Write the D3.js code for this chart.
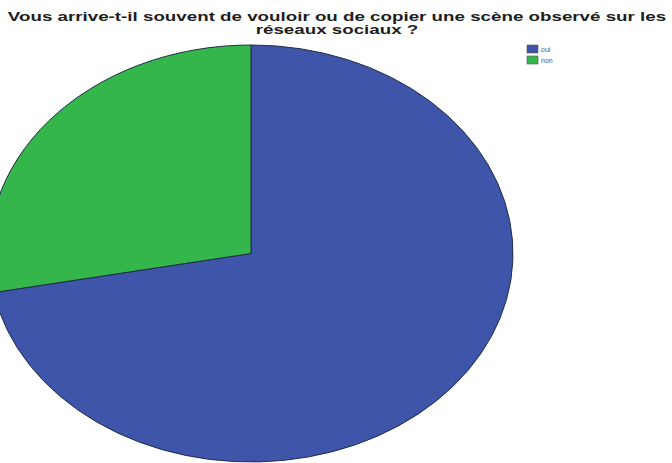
<!DOCTYPE html>
<html>
<head>
<meta charset="utf-8">
<script src="https://cdn.jsdelivr.net/npm/d3@7"></script>
<style>
  html, body { margin: 0; padding: 0; background: #fff; overflow: hidden; }
  svg { display: block; }
</style>
</head>
<body>
<svg id="chart" width="672" height="463"></svg>
<script>
// Answers to the survey question
const categories = ["oui", "non"];
const values = [72, 28];
const colors = ["#3f55a9", "#35b64a"];
const titleLines = [
  "Vous arrive-t-il souvent de vouloir ou de copier une scène observé sur les",
  "réseaux sociaux ?"
];

const svg = d3.select("#chart");

// Title: bold, widened horizontally so the first line spans the page
const titleX = 337, titleWidth = 658;
const title = svg.append("g")
  .attr("font-family", "Liberation Sans, Arial, sans-serif")
  .attr("font-weight", "bold")
  .attr("fill", "#1e1e1e")
  .attr("text-anchor", "middle");
const lines = title.selectAll("text")
  .data(titleLines)
  .join("text")
  .attr("x", 0)
  .attr("y", 0)
  .attr("font-size", 12.2)
  .text(d => d);
const natural = lines.node().getComputedTextLength();
const sx = titleWidth / natural;
lines.attr("transform", (d, i) => `translate(${titleX},${20.5 + i * 13.5}) scale(${sx},1.08)`);

// Elliptical pie: circular arcs scaled horizontally
const cx = 251, cy = 253.5, rx = 262, ry = 208.5;
const pie = d3.pie().sort(null).value(d => d.value);
const arc = d3.arc().innerRadius(0).outerRadius(ry);
const data = categories.map((c, i) => ({ cat: c, value: values[i] }));

const color = d3.scaleOrdinal().domain(categories).range(colors);

svg.append("g")
  .attr("transform", `translate(${cx},${cy}) scale(${rx / ry},1)`)
  .selectAll("path")
  .data(pie(data))
  .join("path")
  .attr("d", arc)
  .attr("fill", d => color(d.data.cat))
  .attr("stroke", "#1f2d4a")
  .attr("stroke-width", 1)
  .attr("vector-effect", "non-scaling-stroke");

// Legend
const legend = svg.append("g").attr("transform", "translate(527,45)");
const item = legend.selectAll("g")
  .data(categories)
  .join("g")
  .attr("transform", (d, i) => `translate(0,${i * 11})`);
item.append("rect")
  .attr("width", 11).attr("height", 8)
  .attr("fill", d => color(d))
  .attr("stroke", "#555").attr("stroke-width", 0.6);
item.append("text")
  .attr("x", 14).attr("y", 7)
  .attr("font-family", "Liberation Sans, Arial, sans-serif")
  .attr("font-size", 7)
  .attr("fill", "#555")
  .text(d => d);
</script>
</body>
</html>
